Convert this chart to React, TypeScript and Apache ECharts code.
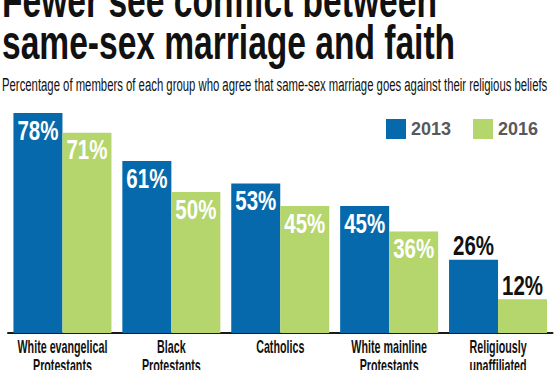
import React, { useEffect, useRef } from "react";
import * as echarts from "echarts";

const categories = [
  "White evangelical\nProtestants",
  "Black\nProtestants",
  "Catholics",
  "White mainline\nProtestants",
  "Religiously\nunaffiliated",
];
const seriesNames = ["2013", "2016"];
const values2013 = [78, 61, 53, 45, 26];
const values2016 = [71, 50, 45, 36, 12];
const titleLines = ["Fewer see conflict between", "same-sex marriage and faith"];
const subtitle =
  "Percentage of members of each group who agree that same-sex marriage goes against their religious beliefs";

const FONT = "'Liberation Sans', Arial, sans-serif";
const BLUE = "#0669ab";
const GREEN = "#b5d56d";
const BAR_GAP_RATIO = 0.1;

function measure(text: string, font: string): number {
  const c = document.createElement("canvas");
  const ctx = c.getContext("2d");
  if (!ctx) return 1;
  ctx.font = font;
  return ctx.measureText(text).width || 1;
}

function fittedText(text: string, size: number, weight: string, x: number, baseline: number, width: number) {
  const w = measure(text, `${weight} ${size}px ${FONT}`);
  return {
    type: "text",
    x,
    y: baseline - 0.35 * size,
    scaleX: width / w,
    silent: true,
    style: {
      text,
      fontSize: size,
      fontWeight: weight,
      fontFamily: FONT,
      fill: "#111",
      textAlign: "left",
      textVerticalAlign: "middle",
      align: "left",
      verticalAlign: "middle",
    },
  };
}

export default function App() {
  const ref = useRef<HTMLDivElement>(null);
  useEffect(() => {
    document.body.style.margin = "0";
    if (!ref.current) return;
    const chart = echarts.init(ref.current, undefined, { renderer: "svg" });

    const LABEL_SIZE = 28;
    const labelScale = 41 / measure("78%", `bold ${LABEL_SIZE}px ${FONT}`);
    const CAT_SIZE = 18;
    const catScale = 90 / measure("White evangelical", `bold ${CAT_SIZE}px ${FONT}`);

    const labelData = [
      ...values2013.map((v, i) => [i, v, 0]),
      ...values2016.map((v, i) => [i, v, 1]),
    ];
    const catData = categories.map((_, i) => [i, 0]);

    chart.setOption({
      animation: false,
      backgroundColor: "#fff",
      grid: { left: 8, right: 2.5, top: 51, bottom: 37, containLabel: false, outerBoundsMode: "none" },
      legend: {
        data: seriesNames,
        left: 386,
        top: 119,
        padding: 0,
        itemWidth: 20,
        itemHeight: 20,
        itemGap: 22,
        icon: "rect",
        selectedMode: false,
        textStyle: { fontFamily: FONT, fontWeight: "bold", fontSize: 18, color: "#58595b" },
      },
      xAxis: {
        type: "category",
        data: categories,
        axisLine: { lineStyle: { color: "#1a1a1a", width: 2 } },
        axisTick: { show: false },
        axisLabel: { show: false },
      },
      yAxis: { type: "value", min: 0, max: 100, show: false, splitLine: { show: false } },
      series: [
        {
          name: seriesNames[0],
          type: "bar",
          data: values2013,
          itemStyle: { color: BLUE },
          barGap: "0%",
          barCategoryGap: `${BAR_GAP_RATIO * 100}%`,
        },
        {
          name: seriesNames[1],
          type: "bar",
          data: values2016,
          itemStyle: { color: GREEN },
        },
        {
          name: "valueLabels",
          type: "custom",
          data: labelData,
          clip: false,
          silent: true,
          z: 5,
          renderItem: (params: any, api: any) => {
            const cat = api.value(0) as number;
            const v = api.value(1) as number;
            const s = api.value(2) as number;
            const pt = api.coord([cat, v]);
            const catW = api.size([1, 0])[0];
            const barW = (catW * (1 - BAR_GAP_RATIO)) / 2;
            const cx = pt[0] + (s === 0 ? -barW / 2 : barW / 2);
            const inside = v >= 30;
            return {
              type: "text",
              x: cx,
              y: inside ? pt[1] + 17 : pt[1] - 14,
              scaleX: labelScale,
              style: {
                text: `${v}%`,
                fontSize: LABEL_SIZE,
                fontWeight: "bold",
                fontFamily: FONT,
                fill: inside ? "#ffffff" : "#111111",
                align: "center",
                verticalAlign: "middle",
              },
            };
          },
        },
        {
          name: "categoryLabels",
          type: "custom",
          data: catData,
          clip: false,
          silent: true,
          z: 5,
          renderItem: (params: any, api: any) => {
            const pt = api.coord([api.value(0), 0]);
            const lines = categories[params.dataIndex].split("\n");
            return {
              type: "group",
              children: lines.map((t, k) => ({
                type: "text",
                x: pt[0],
                y: pt[1] + 14 + k * 19,
                scaleX: catScale,
                style: {
                  text: t,
                  fontSize: CAT_SIZE,
                  fontWeight: "bold",
                  fontFamily: FONT,
                  fill: "#111111",
                  align: "center",
                  verticalAlign: "middle",
                },
              })),
            };
          },
        },
      ],
      graphic: [
        fittedText(titleLines[0], 48, "bold", 2, 17, 435),
        fittedText(titleLines[1], 48, "bold", 2, 60, 453),
        fittedText(subtitle, 19, "normal", 2, 91, 546),
      ],
    });
    return () => chart.dispose();
  }, []);
  return <div ref={ref} style={{ width: 555, height: 370 }} />;
}
